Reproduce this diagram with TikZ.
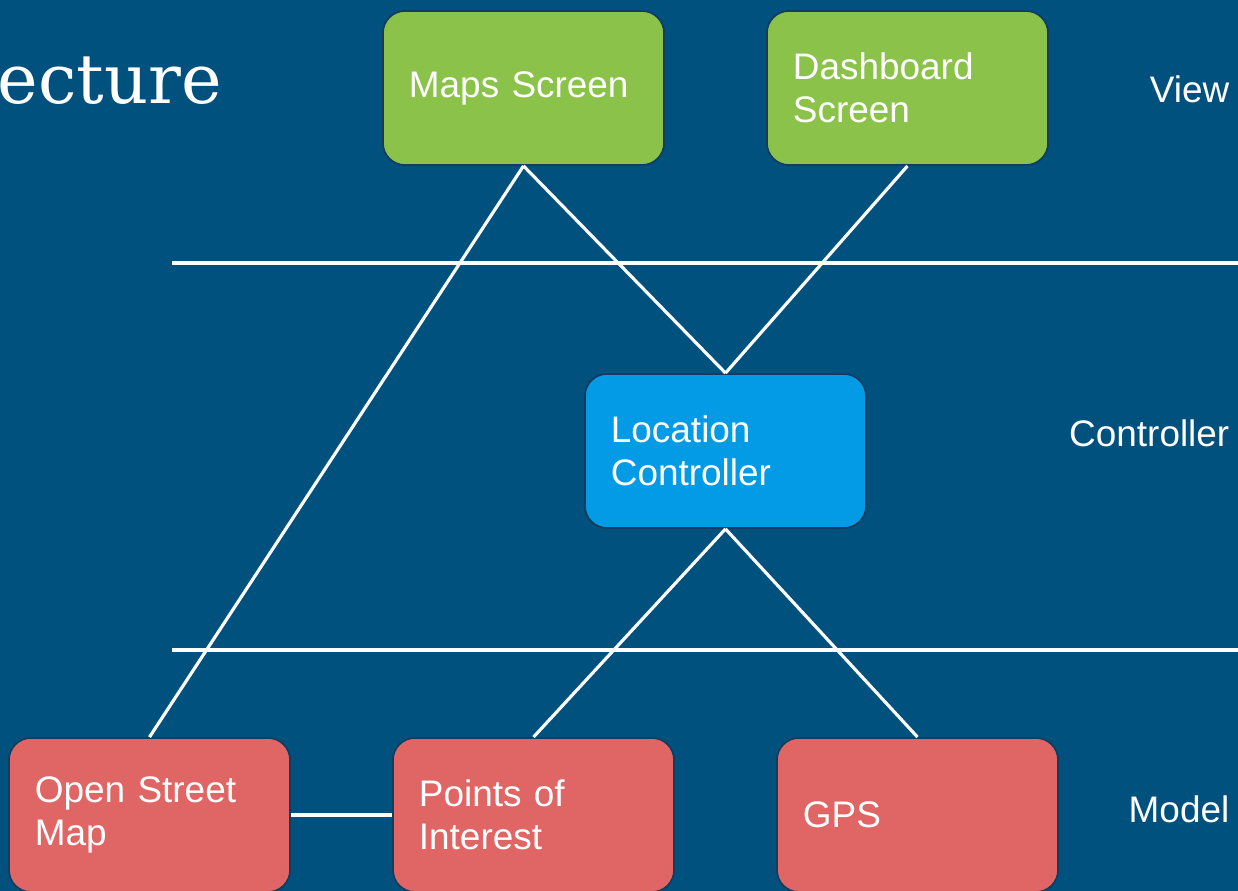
\documentclass[tikz,border=0pt]{standalone}
\usepackage{fontspec}
\setmainfont{Liberation Sans}
\newfontfamily\slabfont{DejaVu Serif}
\usepackage{tikz}
\usetikzlibrary{positioning}

\definecolor{bgblue}{RGB}{0,81,125}
\definecolor{viewgreen}{RGB}{139,195,74}
\definecolor{ctrlblue}{RGB}{3,155,229}
\definecolor{modelred}{RGB}{224,102,102}
\definecolor{edgeblue}{RGB}{20,60,95}

\tikzset{
  box/.style={draw=edgeblue, line width=0.5pt, rounded corners=0.22cm,
    minimum height=1.54cm, text width=2.29cm, inner xsep=0.26cm,
    align=left, text=white, font=\fontsize{10.5}{12.2}\selectfont},
  layer/.style={text=white, anchor=east, inner sep=0pt, font=\fontsize{10.5}{12.2}\selectfont},
  wire/.style={draw=white, line width=0.9pt}
}

\begin{document}
\begin{tikzpicture}[x=0.01cm, y=-0.01cm]
  \fill[bgblue] (0,0) rectangle (1238,891);
  \useasboundingbox (0,0) rectangle (1238,891);

  \node[text=white, anchor=base west, inner sep=0, font=\slabfont\fontsize{19.5}{22}\selectfont] (title) at (-3,104) {ecture};

  % view layer
  \node[box, fill=viewgreen] (maps) at (523.5,88) {Maps Screen};
  \node[box, fill=viewgreen] (dash) at (907.5,88) {Dashboard\\Screen};

  % controller layer
  \node[box, fill=ctrlblue] (loc) at (725.5,451) {Location\\Controller};

  % model layer
  \node[box, fill=modelred] (osm) at (149.5,815) {Open Street\\Map};
  \node[box, fill=modelred] (poi) at (533.5,815) {Points of\\Interest};
  \node[box, fill=modelred] (gps) at (917.5,815) {GPS};

  \node[layer] (viewlbl) at (1230,89) {View};
  \node[layer] (ctrllbl) at (1230,433) {Controller};
  \node[layer] (modellbl) at (1230,809) {Model};

  % separators
  \coordinate (sepa) at (172,263);
  \coordinate (sepb) at (1238,263);
  \coordinate (sepc) at (172,650);
  \coordinate (sepd) at (1238,650);
  \draw[wire, line width=1.1pt] (sepa) -- (sepb);
  \draw[wire, line width=1.1pt] (sepc) -- (sepd);

  % links
  \draw[wire] (maps.south) -- (osm.north);
  \draw[wire] (maps.south) -- (loc.north);
  \draw[wire] (dash.south) -- (loc.north);
  \draw[wire] (loc.south) -- (poi.north);
  \draw[wire] (loc.south) -- (gps.north);
  \draw[wire] (osm.east) -- (poi.west);
\end{tikzpicture}
\end{document}
